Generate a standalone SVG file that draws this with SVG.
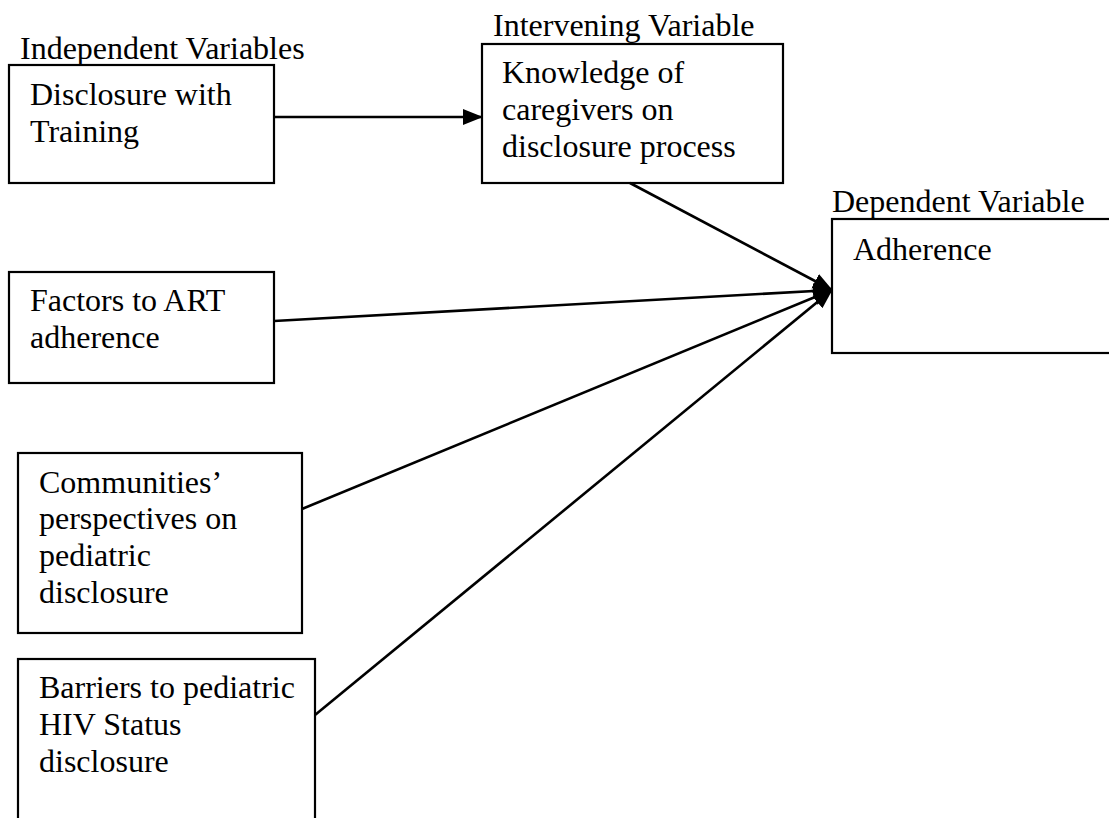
<svg xmlns="http://www.w3.org/2000/svg" width="1109" height="818" viewBox="0 0 1109 818">
<defs>
<style>
.box{fill:#fff;stroke:#000;stroke-width:2.2}
.t{font-family:"Liberation Serif","Times New Roman",serif;font-size:32px;fill:#000}
.c{stroke:#000;stroke-width:2.6;fill:none}
</style>
<marker id="ah" markerUnits="userSpaceOnUse" markerWidth="20" markerHeight="18" viewBox="0 0 20 18" refX="19" refY="9" orient="auto">
<path d="M0,1 L20,9 L0,17 Z" fill="#000"/>
</marker>
</defs>
<rect width="1109" height="818" fill="#fff"/>
<text class="t" x="20" y="59">Independent Variables</text>
<text class="t" x="493" y="36">Intervening Variable</text>
<text class="t" x="832" y="212">Dependent Variable</text>
<g id="node-disclosure">
<rect class="box" x="9" y="65" width="265" height="118"/>
<text class="t" x="30" y="105">Disclosure with</text>
<text class="t" x="30" y="142">Training</text>
</g>
<g id="node-knowledge">
<rect class="box" x="482" y="44" width="301" height="139"/>
<text class="t" x="502" y="83">Knowledge of</text>
<text class="t" x="502" y="120">caregivers on</text>
<text class="t" x="502" y="157">disclosure process</text>
</g>
<g id="node-adherence">
<rect class="box" x="832" y="219" width="290" height="134"/>
<text class="t" x="853" y="260">Adherence</text>
</g>
<g id="node-factors">
<rect class="box" x="9" y="272" width="265" height="111"/>
<text class="t" x="30" y="311">Factors to ART</text>
<text class="t" x="30" y="348">adherence</text>
</g>
<g id="node-communities">
<rect class="box" x="18" y="453" width="284" height="180"/>
<text class="t" x="39" y="493">Communities’</text>
<text class="t" x="39" y="529">perspectives on</text>
<text class="t" x="39" y="566">pediatric</text>
<text class="t" x="39" y="603">disclosure</text>
</g>
<g id="node-barriers">
<rect class="box" x="18" y="659" width="297" height="170"/>
<text class="t" x="39" y="698">Barriers to pediatric</text>
<text class="t" x="39" y="735">HIV Status</text>
<text class="t" x="39" y="772">disclosure</text>
</g>
<g id="connectors">
<line class="c" x1="274" y1="117" x2="482" y2="117" marker-end="url(#ah)"/>
<line class="c" x1="630" y1="183" x2="832" y2="290" marker-end="url(#ah)"/>
<line class="c" x1="274" y1="321" x2="832" y2="290" marker-end="url(#ah)"/>
<line class="c" x1="302" y1="509" x2="832" y2="290" marker-end="url(#ah)"/>
<line class="c" x1="315" y1="715" x2="832" y2="290" marker-end="url(#ah)"/>
</g>
</svg>
